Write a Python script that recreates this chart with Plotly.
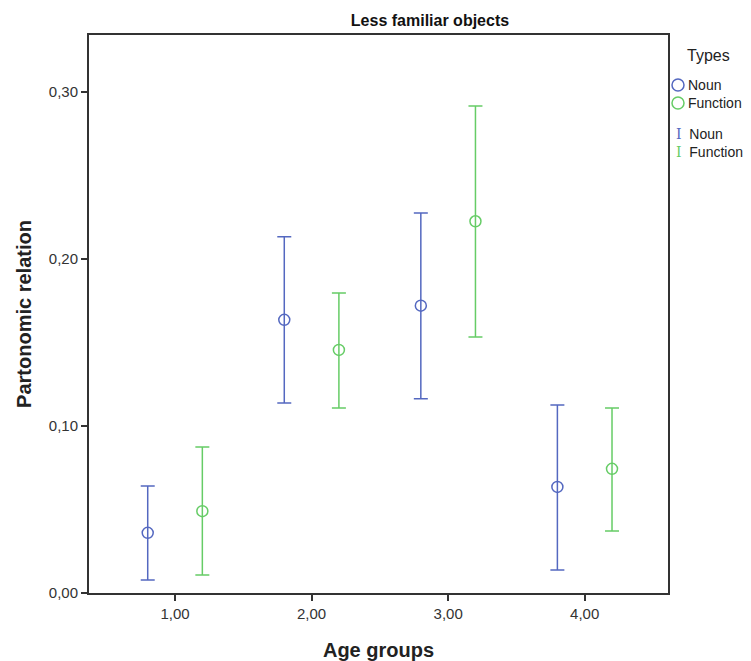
import plotly.graph_objects as go

# Age groups with the two types offset left/right of each group
age_groups = [1, 2, 3, 4]
offset = 0.2

noun_mean = [0.036, 0.1635, 0.172, 0.0635]
noun_upper = [0.064, 0.2132, 0.2275, 0.1126]
noun_lower = [0.0078, 0.1138, 0.1162, 0.0138]

func_mean = [0.049, 0.1455, 0.2225, 0.0743]
func_upper = [0.0874, 0.1796, 0.2915, 0.1108]
func_lower = [0.0108, 0.1108, 0.1533, 0.0371]

x_ticks = [1, 2, 3, 4]
x_ticklabels = ["1,00", "2,00", "3,00", "4,00"]
y_ticks = [0.0, 0.1, 0.2, 0.3]
y_ticklabels = ["0,00", "0,10", "0,20", "0,30"]

type_names = ["Noun", "Function"]

BLUE = "#5468c0"
GREEN = "#66cc66"
FONT = "Liberation Sans, Arial, sans-serif"

W, H = 751, 661
L, R, T, B = 89, 83, 35, 68
PW, PH = W - L - R, H - T - B


def px(xp):
    return (xp - L) / PW


def py(yp):
    return (H - B - yp) / PH


def series(name, xs, mean, upper, lower, color):
    return go.Scatter(
        x=xs,
        y=mean,
        name=name,
        mode="markers",
        showlegend=False,
        marker=dict(symbol="circle-open", size=11, color=color, line=dict(width=1.5)),
        error_y=dict(
            type="data",
            symmetric=False,
            array=[u - m for u, m in zip(upper, mean)],
            arrayminus=[m - l for m, l in zip(mean, lower)],
            color=color,
            thickness=1.5,
            width=7,
        ),
    )


fig = go.Figure()
fig.add_trace(series(type_names[0], [a - offset for a in age_groups],
                     noun_mean, noun_upper, noun_lower, BLUE))
fig.add_trace(series(type_names[1], [a + offset for a in age_groups],
                     func_mean, func_upper, func_lower, GREEN))

# Legend: title, marker key, then error-bar key
fig.add_annotation(xref="paper", yref="paper", x=px(685), y=py(56),
                   xanchor="left", yanchor="middle", showarrow=False,
                   text="Types", font=dict(family=FONT, size=16, color="#222"))
colors = [BLUE, GREEN]
for i, (label, color) in enumerate(zip(type_names, colors)):
    yy = 85 + i * 18
    fig.add_shape(type="circle", xref="paper", yref="paper",
                  xsizemode="pixel", ysizemode="pixel",
                  xanchor=px(678), yanchor=py(yy),
                  x0=-6, x1=6, y0=-6, y1=6,
                  line=dict(color=color, width=1.5))
    fig.add_annotation(xref="paper", yref="paper", x=px(686), y=py(yy),
                       xanchor="left", yanchor="middle", showarrow=False,
                       text=label, font=dict(family=FONT, size=14, color="#222"))
for i, (label, color) in enumerate(zip(type_names, colors)):
    yy = 134 + i * 18
    fig.add_annotation(xref="paper", yref="paper", x=px(674), y=py(yy),
                       xanchor="left", yanchor="middle", showarrow=False,
                       text=f"<span style='color:{color};font-family:DejaVu Serif'>I</span>  {label}",
                       font=dict(family=FONT, size=14, color="#222"))

fig.update_layout(
    width=W,
    height=H,
    margin=dict(l=L, r=R, t=T, b=B, autoexpand=False),
    paper_bgcolor="white",
    plot_bgcolor="white",
    showlegend=False,
    title=dict(
        text="<b>Less familiar objects</b>",
        x=430 / W, xanchor="center",
        y=1 - 20 / H, yanchor="middle",
        font=dict(family=FONT, size=16, color="#111"),
    ),
    xaxis=dict(
        range=[0.37, 4.61],
        tickvals=x_ticks,
        ticktext=x_ticklabels,
        ticks="outside", ticklen=6, tickwidth=1.5, tickcolor="#333",
        showline=True, linecolor="#333", linewidth=2, mirror=True,
        showgrid=False, zeroline=False,
        tickfont=dict(family=FONT, size=15, color="#333"),
        title=dict(text="<b>Age groups</b>", standoff=22,
                   font=dict(family=FONT, size=20, color="#222")),
    ),
    yaxis=dict(
        range=[0, 0.334],
        tickvals=y_ticks,
        ticktext=y_ticklabels,
        ticks="outside", ticklen=6, tickwidth=1.5, tickcolor="#333",
        showline=True, linecolor="#333", linewidth=2, mirror=True,
        showgrid=False, zeroline=False,
        tickfont=dict(family=FONT, size=15, color="#333"),
        title=dict(text="<b>Partonomic relation</b>", standoff=12,
                   font=dict(family=FONT, size=20, color="#222")),
    ),
)

fig.write_html("out.html")
